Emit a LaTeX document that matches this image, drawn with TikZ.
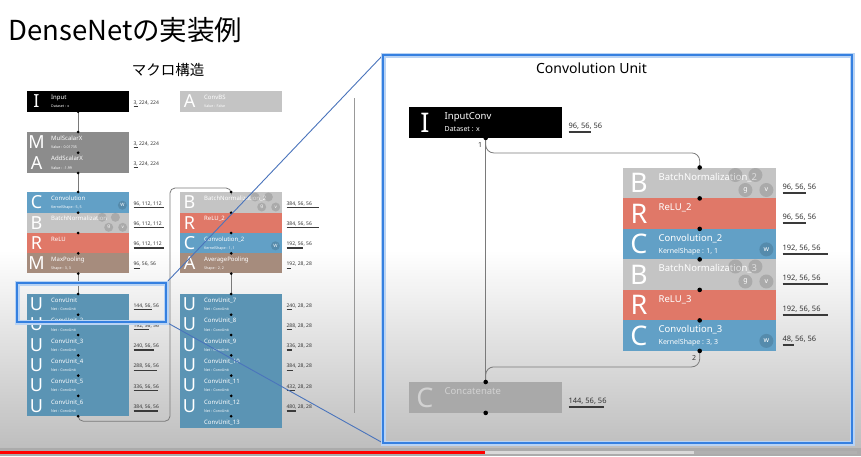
\documentclass[tikz,border=0pt]{standalone}
\usepackage{fontspec}
\setmainfont{Noto Sans}
\newfontfamily\cjk{Noto Sans CJK JP}
\usepackage{tikz}
\usetikzlibrary{positioning,calc}

\definecolor{convc}{HTML}{62A0C6}
\definecolor{bnc}{HTML}{C4C4C4}
\definecolor{reluc}{HTML}{E07868}
\definecolor{poolc}{HTML}{A68C7D}
\definecolor{unitc}{HTML}{5B94B4}
\definecolor{scalc}{HTML}{8C8C8C}
\definecolor{catc}{HTML}{A9A9A9}
\definecolor{catt}{HTML}{D2D2D2}
\definecolor{zoomc}{HTML}{3580E0}
\definecolor{zlinec}{HTML}{4A74BC}
\definecolor{wirec}{HTML}{7A7A7A}
\definecolor{barc}{HTML}{3A3A3A}
\definecolor{txtc}{HTML}{333333}
\definecolor{bgc}{HTML}{BEBEBE}

% size label with its little bar
\newcommand{\szb}[2]{\rlap{\color{barc}\rule[-0.6em]{#1pt}{0.25em}}#2}
% one layer row: prefix, name, fill, position, letter, title, sub, size label
\newcommand{\blkrow}[8]{%
  \node[#1row,fill=#3] (#2) at (#4) {};
  \node[#1let] at (#2.west) {#5};
  \node[#1ttl] at (#2.north west) {#6};
  \node[#1sub] at (#2.south west) {#7};
  \node[#1sz] (#2l) at (#2.north east) {#8};}

\begin{document}
\begin{tikzpicture}[x=1pt,y=-1pt,
  srow/.style={anchor=north west,inner sep=0,minimum width=102pt,minimum height=20.3pt},
  slet/.style={text=white,inner sep=0,xshift=9.5pt,font=\fontsize{18}{18}\selectfont},
  sttl/.style={anchor=base west,inner sep=0,text=white,xshift=24pt,yshift=-8.5pt,font=\fontsize{6}{6}\selectfont},
  ssub/.style={anchor=base west,inner sep=0,text=white,xshift=24pt,yshift=4pt,font=\fontsize{3.6}{3.6}\selectfont},
  ssz/.style={anchor=base west,inner sep=0,text=txtc,xshift=4pt,yshift=-13pt,font=\fontsize{5}{5}\selectfont},
  brow/.style={anchor=north west,inner sep=0,minimum width=153pt,minimum height=30.5pt},
  blet/.style={text=white,inner sep=0,xshift=16pt,font=\fontsize{27}{27}\selectfont},
  bttl/.style={anchor=base west,inner sep=0,text=white,xshift=35.5pt,yshift=-12.5pt,font=\fontsize{9.5}{9.5}\selectfont},
  bsub/.style={anchor=base west,inner sep=0,text=white,xshift=35.5pt,yshift=6pt,font=\fontsize{7}{7}\selectfont},
  bsz/.style={anchor=base west,inner sep=0,text=txtc,xshift=6pt,yshift=-21.5pt,font=\fontsize{7.5}{7.5}\selectfont},
  bico/.style={circle,fill=black,fill opacity=0.13,text opacity=1,text=white,inner sep=0,minimum size=14pt,font=\fontsize{7}{7}\selectfont},
  sico/.style={bico,minimum size=9pt,font=\fontsize{4.5}{4.5}\selectfont},
  wire/.style={wirec,line width=0.8pt},
  zoombox/.style={zoomc,line width=2.6pt},
  zoomhalo/.style={zoomc!35,line width=5pt}]
  \useasboundingbox (0,0) rectangle (861,456);
  % slide background and player bar
  \fill[white] (0,0) rectangle (861,250);
  \shade[top color=white,bottom color=bgc] (0,250) rectangle (861,448);
  \fill[bgc!90!black] (0,448) rectangle (861,456);
  \fill[red] (0,450.5) rectangle (485,454);
  \fill[gray!30] (485,450.5) rectangle (694,454);
  \fill[gray!62] (694,450.5) rectangle (857,454);
  % titles
  \node[anchor=base west,inner sep=0,font=\cjk\fontsize{27.5}{27.5}\selectfont] (title) at (8,40) {DenseNetの実装例};
  \node[anchor=base,inner sep=0,font=\cjk\fontsize{14.5}{14.5}\selectfont] (macro) at (168,75) {マクロ構造};
  \node[anchor=base,inner sep=0,font=\fontsize{14}{14}\selectfont] (cutitle) at (591.5,73) {Convolution Unit};
  \draw[gray!80,line width=0.8pt] (354,98) coordinate (sepa) -- (354,413) coordinate (sepb);

  % macro structure, first column
  \blkrow{s}{in}{black}{27,91}{I}{Input}{Dataset : x}{\szb{4}{3, 224, 224}}
  \blkrow{s}{ma1}{scalc}{27,132}{M}{MulScalarX}{Value : 0.01735}{\szb{4}{3, 224, 224}}
  \blkrow{s}{ma2}{scalc}{27,152.3}{A}{AddScalarX}{Value : -1.99}{\szb{4}{3, 224, 224}}
  \blkrow{s}{c1}{convc}{27,192}{C}{Convolution}{KernelShape : 5, 5}{\szb{30}{96, 112, 112}}
  \blkrow{s}{b1}{bnc}{27,212.3}{B}{BatchNormalization}{}{\szb{30}{96, 112, 112}}
  \blkrow{s}{r1}{reluc}{27,232.6}{R}{ReLU}{}{\szb{30}{96, 112, 112}}
  \blkrow{s}{m1}{poolc}{27,252.9}{M}{MaxPooling}{Shape : 3, 3}{\szb{6}{96, 56, 56}}
  \foreach \i/\sz/\w [count=\k from 1] in {{}/144/18,\_2/192/15,\_3/240/20,\_4/288/23,\_5/336/24,\_6/384/24}
    {\blkrow{s}{u\k}{unitc}{27,{294+20.3*(\k-1)}}{U}{ConvUnit\i}{Net : ConvUnit}{\szb{\w}{\sz, 56, 56}}}
  % second column
  \blkrow{s}{bs}{bnc}{180,91}{A}{ConvBS}{Value : False}{}
  \blkrow{s}{b2}{bnc}{180,192}{B}{BatchNormalization\_2}{}{\szb{32}{384, 56, 56}}
  \blkrow{s}{r2}{reluc}{180,212.3}{R}{ReLU\_2}{}{\szb{32}{384, 56, 56}}
  \blkrow{s}{c2}{convc}{180,232.6}{C}{Convolution\_2}{KernelShape : 1, 1}{\szb{16}{192, 56, 56}}
  \blkrow{s}{a2}{poolc}{180,252.9}{A}{AveragePooling}{Shape : 2, 2}{\szb{4}{192, 28, 28}}
  \foreach \i/\sz/\w [count=\k from 7] in {7/240/5,8/288/5,9/336/5,10/384/6,11/432/8,12/480/9}
    {\blkrow{s}{u\k}{unitc}{180,{294+20.3*(\k-7)}}{U}{ConvUnit\_\i}{Net : ConvUnit}{\szb{\w}{\sz, 28, 28}}}
  \node[srow,fill=unitc,minimum height=12pt] (u13) at (180,415.8) {};
  \node[sttl] at (u13.north west) {ConvUnit\_13};
  % wires of the macro structure
  \draw[wire] (in.south) -- (ma1.north);
  \draw[wire] (ma2.south) -- (c1.north);
  \draw[wire] (m1.south) -- (u1.north);
  \draw[wire,rounded corners=5] (u6.south) -- ++(0,5) -| (170,188) -| (b2.north);
  \draw[wire] (a2.south) -- (u7.north);
  \draw[wire] (u12.south) -- (u13.north);
  \foreach \p in {in.south,ma1.north,ma1.south,ma2.south,c1.north,c1.south,b1.south,r1.south,m1.south,
    u1.north,u1.south,u2.south,u3.south,u4.south,u5.south,u6.south,
    b2.north,b2.south,r2.south,c2.south,a2.south,u7.north,u7.south,u8.south,u9.south,u10.south,u11.south,u12.south}
    \fill (\p) circle (1.5);
  % small parameter icons
  \foreach \r in {b1,b2} {
    \node[sico] at ($(\r.north east)+(-27.3,5)$) {};
    \node[sico] at ($(\r.north east)+(-14,5)$) {};
    \node[sico] at ($(\r.north east)+(-20.7,15)$) {g};
    \node[sico] at ($(\r.north east)+(-6.7,15)$) {v};}
  \foreach \r in {c1,c2} \node[sico] at ($(\r.south east)+(-7,-7.5)$) {W};

  % convolution unit
  \blkrow{b}{inc}{black}{409,107}{I}{InputConv}{Dataset : x}{\szb{22}{96, 56, 56}}
  \blkrow{b}{rb1}{bnc}{623,167.5}{B}{BatchNormalization\_2}{}{\szb{23}{96, 56, 56}}
  \blkrow{b}{rr1}{reluc}{623,198}{R}{ReLU\_2}{}{\szb{23}{96, 56, 56}}
  \blkrow{b}{rc1}{convc}{623,228.5}{C}{Convolution\_2}{KernelShape : 1, 1}{\szb{45}{192, 56, 56}}
  \blkrow{b}{rb2}{bnc}{623,259}{B}{BatchNormalization\_3}{}{\szb{45}{192, 56, 56}}
  \blkrow{b}{rr2}{reluc}{623,289.5}{R}{ReLU\_3}{}{\szb{45}{192, 56, 56}}
  \blkrow{b}{rc2}{convc}{623,320}{C}{Convolution\_3}{KernelShape : 3, 3}{\szb{11}{48, 56, 56}}
  \blkrow{b}{cat}{catc}{409,382}{\color{catt}C}{\color{catt}Concatenate}{}{\szb{35}{144, 56, 56}}
  \draw[wire] (inc.south) -- (cat.north);
  \draw[wire,rounded corners=8] (inc.south) -- ++(0,15) -| (rb1.north);
  \draw[wire,rounded corners=8] (rc2.south) -- ++(0,16) -| (cat.north);
  \foreach \p in {inc.south,rb1.north,rb1.south,rr1.south,rc1.south,rb2.south,rr2.south,rc2.south,cat.north,cat.south}
    \fill (\p) circle (2.3);
  \node[inner sep=0,text=txtc,font=\fontsize{7}{7}\selectfont] (n1) at (480,145) {1};
  \node[inner sep=0,text=txtc,font=\fontsize{7}{7}\selectfont] (n2) at (694,358) {2};
  \foreach \r in {rb1,rb2} {
    \node[bico] at ($(\r.north east)+(-41,7.5)$) {};
    \node[bico] at ($(\r.north east)+(-21,7.5)$) {};
    \node[bico] at ($(\r.north east)+(-31,22.5)$) {g};
    \node[bico] at ($(\r.north east)+(-10,22.5)$) {v};}
  \foreach \r in {rc1,rc2} \node[bico] at ($(\r.south east)+(-10,-10)$) {w};

  % zoom frame
  \coordinate (hl) at (17,283);
  \coordinate (hr) at (166,322);
  \coordinate (zl) at (383,55);
  \coordinate (zr) at (852,443);
  \draw[zlinec,line width=0.9pt] (hr |- hl) -- (zl);
  \draw[zlinec,line width=0.9pt] (hr) -- (zl |- zr);
  \draw[zoomhalo] (hl) rectangle (hr);
  \draw[zoombox] (hl) rectangle (hr);
  \draw[zoomhalo] (zl) rectangle (zr);
  \draw[zoombox] (zl) rectangle (zr);
\end{tikzpicture}
\end{document}
